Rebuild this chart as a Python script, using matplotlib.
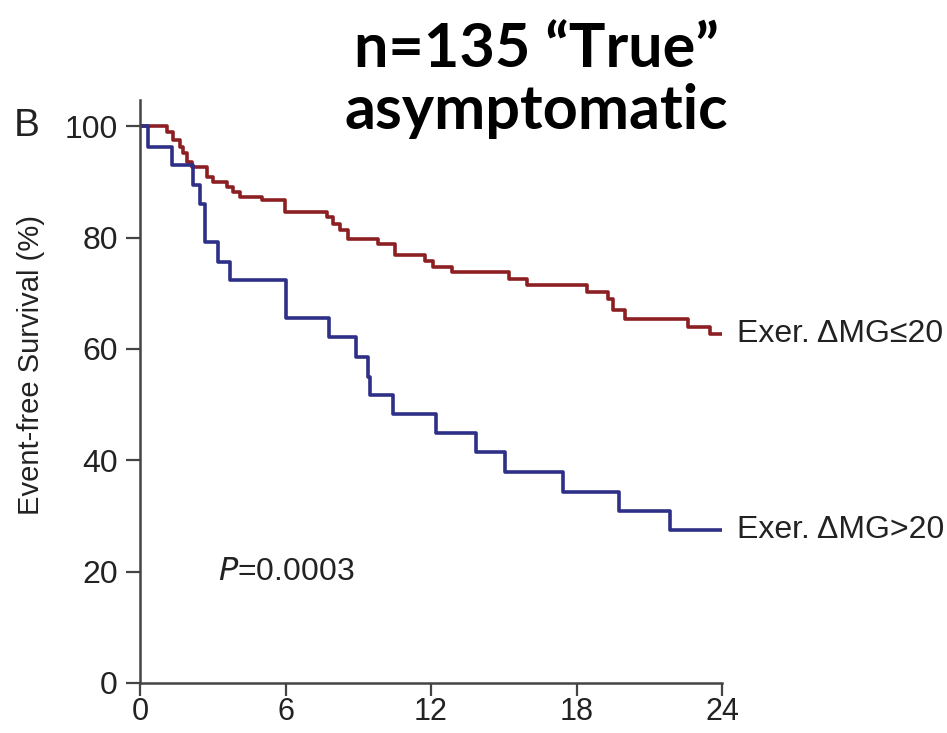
import numpy as np
import matplotlib
matplotlib.use("Agg")
import matplotlib.pyplot as plt

# step points (months, % event-free)
red_t = [0, 0.95, 1.1, 1.37, 1.65, 1.79, 1.92, 2.13, 2.75, 3.02, 3.57, 3.85, 4.12,
         5.02, 5.98, 7.42, 7.7, 7.97, 8.25, 8.59, 9.8, 10.5, 11.75, 12.1, 12.85,
         15.2, 15.95, 18.0, 18.42, 19.3, 19.5, 20.0, 22.6, 23.5, 24]
red_s = [100, 100, 99.0, 97.5, 96.3, 95.1, 93.6, 92.6, 90.9, 90.0, 89.1, 88.2, 87.3,
         86.7, 84.6, 84.6, 83.7, 82.5, 81.3, 79.8, 78.9, 76.8, 75.8, 74.7, 73.8,
         72.6, 71.5, 71.5, 70.2, 69.0, 66.9, 65.4, 63.9, 62.6, 62.6]

blue_t = [0, 0.33, 1.3, 2.2, 2.47, 2.68, 3.2, 3.7, 6.0, 7.8, 8.9, 9.4, 9.5, 10.45,
          12.2, 13.85, 15.05, 17.46, 19.77, 21.86, 24]
blue_s = [100, 96.3, 93.0, 89.4, 86.0, 79.2, 75.6, 72.4, 65.5, 62.1, 58.6, 55.0,
          51.7, 48.3, 44.9, 41.4, 37.9, 34.3, 30.9, 27.5, 27.5]

x_ticks = [0, 6, 12, 18, 24]
y_ticks = [0, 20, 40, 60, 80, 100]
red_label = "Exer. \u0394MG\u226420"
blue_label = "Exer. \u0394MG>20"

RED = "#8c1f22"
BLUE = "#2e2f86"

plt.rcParams['font.family'] = ['Liberation Sans', 'DejaVu Sans']

fig = plt.figure(figsize=(9.47, 7.33), dpi=100)
ax = fig.add_axes([140 / 947, 1 - 683 / 733, 582 / 947, 583 / 733])

ax.step(red_t, red_s, where='post', color=RED, lw=2.6)
ax.step(blue_t, blue_s, where='post', color=BLUE, lw=2.6)

ax.set_xlim(0, 24)
ax.set_ylim(0, 104.7)
ax.set_xticks(x_ticks)
ax.set_yticks(y_ticks)
ax.tick_params(labelsize=23, width=1.6, color='#444444', labelcolor='#222222')
ax.tick_params(axis='y', length=10, pad=6)
ax.tick_params(axis='x', length=9, pad=1, labelsize=22)
for side in ['top', 'right']:
    ax.spines[side].set_visible(False)
for side in ['left', 'bottom']:
    ax.spines[side].set_linewidth(1.8)
    ax.spines[side].set_color('#444444')
ax.spines['bottom'].set_bounds(0, 24)
ax.set_ylabel("Event-free Survival (%)", fontsize=21, color='#222222')
ax.yaxis.set_label_coords(-0.163, 0.545)

ax.text(24.6, red_s[-1], red_label, fontsize=23, va='center', color='#222222',
        clip_on=False)
ax.text(24.6, blue_s[-1], blue_label, fontsize=23, va='center', color='#222222',
        clip_on=False)
ax.text(3.2, 20, r"$\it{P}$=0.0003", fontsize=23, va='center', color='#222222')

fig.text(14 / 947, 1 - 126 / 733, "B", fontsize=28, va='center', color='#222222')
fig.text(536 / 947, 1 - 80 / 733, "n=135 \u201cTrue\u201d\nasymptomatic",
         fontsize=44, fontweight='bold', family=['Lato', 'DejaVu Sans'],
         ha='center', va='center', linespacing=1.12)

fig.savefig("out.png", dpi=100)
